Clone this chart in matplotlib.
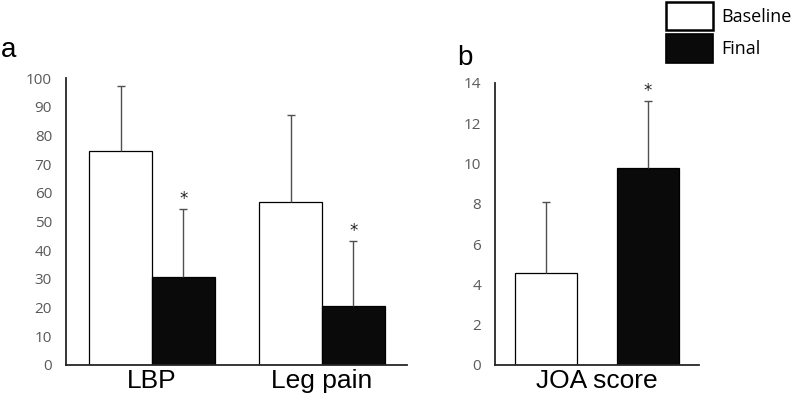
import numpy as np
import matplotlib
matplotlib.use("Agg")
import matplotlib.pyplot as plt
from matplotlib.patches import Patch

# panel a: VAS
categories_a = ["LBP", "Leg pain"]
baseline_a = [74.5, 56.8]
baseline_a_sd = [22.6, 30.3]
final_a = [30.6, 20.5]
final_a_sd = [23.8, 22.7]

# panel b: JOA score
categories_b = ["JOA score"]
baseline_b = [4.55]
baseline_b_sd = [3.55]
final_b = [9.8]
final_b_sd = [3.3]

series_labels = ["Baseline", "Final"]
signif_final = "*"

TICK_FONT = "Open Sans"
CAT_FONT = "Liberation Sans"
TICK_COLOR = "#595959"
ERR_COLOR = "#505050"


def style_axis(ax, ylim, ystep):
    ax.set_ylim(*ylim)
    ax.set_yticks(np.arange(ylim[0], ylim[1] + ystep / 2, ystep))
    for side in ("top", "right"):
        ax.spines[side].set_visible(False)
    for side in ("left", "bottom"):
        ax.spines[side].set_color("#262626")
        ax.spines[side].set_linewidth(1.3)
    ax.tick_params(axis="y", length=0, pad=10, labelcolor=TICK_COLOR)
    ax.tick_params(axis="x", length=0, pad=3)
    for lbl in ax.get_yticklabels():
        lbl.set_fontfamily(TICK_FONT)
        lbl.set_fontsize(11)
    for lbl in ax.get_xticklabels():
        lbl.set_fontfamily(CAT_FONT)
        lbl.set_fontsize(19)


def upper_err(ax, x, y, sd):
    zeros = np.zeros(len(y))
    _, caps, _ = ax.errorbar(x, y, yerr=[zeros, sd], fmt="none", ecolor=ERR_COLOR,
                             elinewidth=1, capsize=3.2, capthick=1, zorder=3)
    # hide the cap sitting on the bar top
    caps[0].set_visible(False)


def draw_pair(ax, x_base, x_fin, width, base, base_sd, fin, fin_sd):
    ax.bar(x_base, base, width, color="white", edgecolor="black", linewidth=0.9, zorder=2)
    ax.bar(x_fin, fin, width, color="#0a0a0a", edgecolor="black", linewidth=0.9, zorder=2)
    upper_err(ax, x_base, base, base_sd)
    upper_err(ax, x_fin, fin, fin_sd)
    tops = np.array(fin) + np.array(fin_sd)
    for xi, ti in zip(x_fin, tops):
        ax.annotate(signif_final, (xi, ti), xytext=(0, 0.5), textcoords="offset points",
                    ha="center", va="bottom", fontsize=12, color="#222222",
                    family="DejaVu Sans")


fig = plt.figure(figsize=(7.94, 4.0), dpi=100)

# panel a
ax_a = fig.add_axes([66 / 794, 1 - 365 / 400, (407 - 66) / 794, 287 / 400])
xa = np.arange(len(categories_a))
wa = 0.37
draw_pair(ax_a, xa - wa / 2, xa + wa / 2, wa, baseline_a, baseline_a_sd, final_a, final_a_sd)
ax_a.set_xlim(-0.506, 1.5)
ax_a.set_xticks(xa)
ax_a.set_xticklabels(categories_a)
style_axis(ax_a, (0, 100), 10)

# panel b
ax_b = fig.add_axes([495 / 794, 1 - 365 / 400, (699 - 495) / 794, 282 / 400])
xb = np.arange(len(categories_b))
wb = 0.6
draw_pair(ax_b, xb - 0.5, xb + 0.5, wb, baseline_b, baseline_b_sd, final_b, final_b_sd)
ax_b.set_xlim(-1.0, 1.0)
ax_b.set_xticks(xb)
ax_b.set_xticklabels(categories_b)
style_axis(ax_b, (0, 14), 2)

# panel letters
fig.text(1 / 794, 1 - 57 / 400, "a", fontsize=20, family=CAT_FONT, va="baseline")
fig.text(457 / 794, 1 - 65 / 400, "b", fontsize=20, family=CAT_FONT, va="baseline")

# legend
handles = [Patch(facecolor="white", edgecolor="black", linewidth=1.8),
           Patch(facecolor="#0a0a0a", edgecolor="black", linewidth=1.2)]
fig.legend(handles, series_labels, loc="upper left", bbox_to_anchor=(666 / 794, 1 - 2 / 400),
           frameon=False, borderpad=0, borderaxespad=0, handlelength=2.6, handleheight=2.05,
           handletextpad=0.45, labelspacing=0.22, prop={"family": TICK_FONT, "size": 13})

fig.savefig("out.png", dpi=100)
